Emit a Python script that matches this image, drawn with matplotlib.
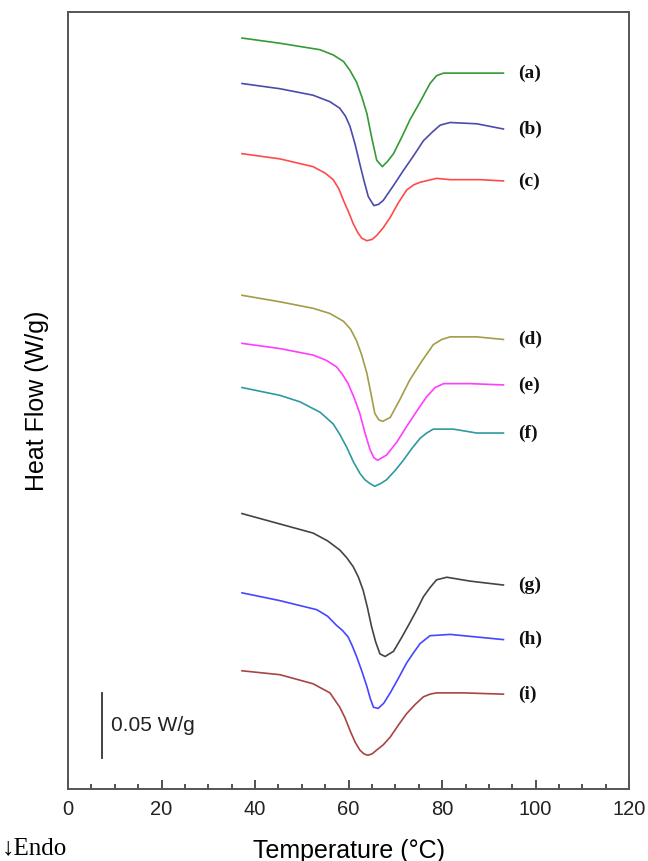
import matplotlib
matplotlib.use("Agg")
import matplotlib.pyplot as plt
from matplotlib.ticker import MultipleLocator

# DSC thermograms, heat flow in W/g (curves offset vertically)
T_a = [37.2, 45.3, 53.9, 56.7, 58.9, 60.3, 61.7, 62.8, 63.9, 64.9, 66.0, 67.2, 68.3,
       69.6, 71.4, 73.1, 75.3, 77.4, 78.8, 80.3, 87.4, 93.1]
HF_a = [0.578, 0.574, 0.569, 0.565, 0.560, 0.553, 0.544, 0.533, 0.520, 0.502, 0.484,
        0.479, 0.483, 0.489, 0.502, 0.515, 0.529, 0.543, 0.549, 0.551, 0.551, 0.551]

T_b = [37.2, 45.3, 52.4, 56.0, 58.1, 59.3, 60.3, 61.4, 62.4, 63.3, 64.2, 65.4, 66.4,
       67.4, 69.5, 71.7, 74.0, 76.0, 78.0, 79.6, 81.7, 87.4, 93.1]
HF_b = [0.543, 0.539, 0.534, 0.529, 0.524, 0.518, 0.510, 0.496, 0.481, 0.468, 0.456,
        0.449, 0.450, 0.453, 0.464, 0.476, 0.488, 0.499, 0.506, 0.511, 0.513, 0.512, 0.508]

T_c = [37.2, 45.3, 52.4, 55.0, 56.7, 57.9, 58.9, 60.0, 61.0, 62.0, 62.8, 63.9, 65.0,
       66.0, 67.4, 68.9, 70.6, 72.4, 73.9, 75.3, 78.8, 81.7, 88.1, 93.1]
HF_c = [0.489, 0.485, 0.479, 0.474, 0.469, 0.462, 0.453, 0.444, 0.435, 0.428, 0.424,
        0.422, 0.423, 0.426, 0.432, 0.440, 0.451, 0.461, 0.465, 0.467, 0.470, 0.469,
        0.469, 0.468]

T_d = [37.2, 45.3, 52.4, 56.0, 58.9, 60.4, 61.7, 62.8, 63.9, 64.8, 65.6, 66.5, 67.3,
       68.9, 71.0, 73.1, 75.6, 78.1, 79.9, 81.7, 87.4, 93.1]
HF_d = [0.380, 0.375, 0.370, 0.366, 0.360, 0.354, 0.345, 0.334, 0.320, 0.304, 0.289,
        0.284, 0.283, 0.286, 0.300, 0.315, 0.329, 0.342, 0.346, 0.348, 0.348, 0.346]

T_e = [37.2, 45.3, 52.4, 55.2, 57.4, 58.7, 59.9, 61.2, 62.4, 63.5, 64.6, 65.4, 66.2,
       68.1, 70.3, 72.4, 74.6, 76.7, 78.5, 80.3, 86.0, 93.1]
HF_e = [0.343, 0.339, 0.334, 0.330, 0.325, 0.319, 0.312, 0.301, 0.289, 0.274, 0.261,
        0.255, 0.253, 0.257, 0.267, 0.279, 0.291, 0.302, 0.309, 0.312, 0.312, 0.311]

T_f = [37.2, 45.3, 49.6, 53.9, 56.7, 58.1, 59.6, 61.0, 62.4, 63.5, 64.6, 65.6, 66.8,
       68.1, 69.9, 71.7, 73.5, 75.3, 76.7, 78.1, 82.4, 87.4, 93.1]
HF_f = [0.309, 0.303, 0.298, 0.290, 0.281, 0.273, 0.263, 0.252, 0.243, 0.238, 0.235,
        0.233, 0.235, 0.238, 0.245, 0.253, 0.262, 0.270, 0.274, 0.277, 0.277, 0.274, 0.274]

T_g = [37.2, 45.3, 52.4, 55.5, 58.1, 59.6, 61.0, 62.1, 63.1, 64.0, 64.9, 65.8, 66.7,
       67.8, 69.6, 71.4, 73.1, 74.6, 76.0, 77.4, 78.8, 81.0, 86.0, 93.1]
HF_g = [0.212, 0.204, 0.197, 0.191, 0.184, 0.178, 0.171, 0.163, 0.153, 0.140, 0.125,
        0.113, 0.104, 0.102, 0.106, 0.117, 0.128, 0.138, 0.148, 0.155, 0.161, 0.163,
        0.160, 0.157]

T_h = [37.2, 45.3, 53.2, 55.5, 57.4, 58.7, 59.9, 60.8, 61.7, 62.8, 63.9, 64.6, 65.3,
       66.3, 67.5, 68.9, 70.6, 72.4, 73.9, 75.3, 77.4, 81.7, 87.4, 93.1]
HF_h = [0.151, 0.145, 0.138, 0.133, 0.126, 0.122, 0.117, 0.110, 0.102, 0.091, 0.079,
        0.070, 0.063, 0.062, 0.066, 0.074, 0.085, 0.097, 0.105, 0.112, 0.118, 0.119,
        0.117, 0.115]

T_i = [37.2, 45.3, 52.4, 56.0, 58.1, 59.2, 60.3, 61.4, 62.4, 63.3, 64.1, 65.0, 66.0,
       67.4, 68.9, 70.6, 72.4, 74.2, 76.0, 77.4, 78.8, 84.5, 93.1]
HF_i = [0.091, 0.088, 0.081, 0.074, 0.063, 0.055, 0.045, 0.036, 0.030, 0.027, 0.026,
        0.027, 0.030, 0.034, 0.040, 0.049, 0.058, 0.065, 0.071, 0.073, 0.074, 0.074, 0.073]

labels = ['(a)', '(b)', '(c)', '(d)', '(e)', '(f)', '(g)', '(h)', '(i)']
colors = ['#349a34', '#4b4bab', '#ff4a4a', '#a39c4a', '#ff3cff',
          '#2e9aa0', '#444444', '#4646ff', '#a84444']
temps = [T_a, T_b, T_c, T_d, T_e, T_f, T_g, T_h, T_i]
flows = [HF_a, HF_b, HF_c, HF_d, HF_e, HF_f, HF_g, HF_h, HF_i]

scale_T = 7.2
scale_bottom = 0.024
scale_size = 0.05

fig = plt.figure(figsize=(6.48, 8.61), dpi=100)
ax = fig.add_axes([0.105, 0.0836, 0.866, 0.9024])

for T, HF, c, lab in zip(temps, flows, colors, labels):
    ax.plot(T, HF, color=c, linewidth=1.2)
    ax.text(96.2, HF[-1], lab, fontsize=14, fontweight='bold',
            family='Liberation Serif', va='center', ha='left', color='#111111')

# scale bar
ax.plot([scale_T, scale_T], [scale_bottom, scale_bottom + scale_size],
        color='#333333', linewidth=1.3)
ax.text(9.1, scale_bottom + scale_size / 2, '0.05 W/g', fontsize=15,
        family='Liberation Sans', va='center', ha='left', color='#222222')

ax.set_xlim(0, 120)
ax.set_ylim(0, 0.598)
ax.xaxis.set_major_locator(MultipleLocator(20))
ax.xaxis.set_minor_locator(MultipleLocator(5))
ax.tick_params(axis='x', which='major', direction='in', length=6.5, width=1.2,
               labelsize=14.5, colors='#333333', labelcolor='#222222', pad=8)
ax.tick_params(axis='x', which='minor', direction='in', length=3.5, width=1.2,
               colors='#333333')
ax.set_yticks([])
for lbl in ax.get_xticklabels():
    lbl.set_family('Liberation Sans')

for sp in ax.spines.values():
    sp.set_color('#555555')
    sp.set_linewidth(1.4)

ax.set_xlabel('Temperature (°C)', fontsize=18, family='Liberation Sans',
              labelpad=14)
ax.set_ylabel('Heat Flow (W/g)', fontsize=18, family='Liberation Sans',
              labelpad=14)

fig.text(0.003, 0.015, '↓Endo', fontsize=18,
         family=['Liberation Serif', 'DejaVu Serif'], ha='left', va='center')

fig.savefig('out.png', dpi=100)
